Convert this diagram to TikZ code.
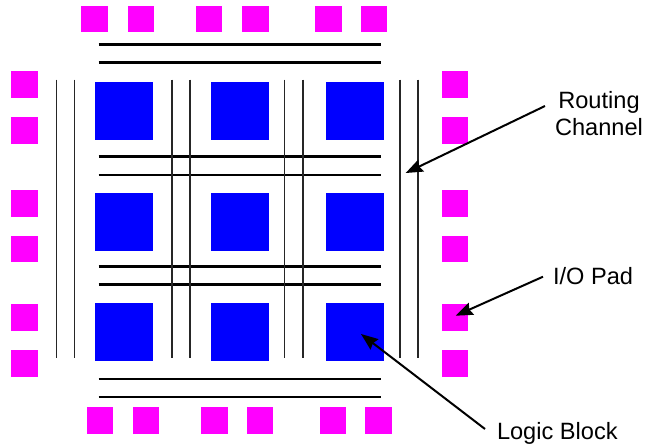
\documentclass[tikz,border=0pt]{standalone}
\usepackage{fontspec}
\setmainfont{Liberation Sans}
\usetikzlibrary{arrows.meta}
\definecolor{padmag}{RGB}{255,0,255}
\definecolor{blockblue}{RGB}{0,0,255}
\tikzset{
  padbox/.style={fill=padmag, draw=none, inner sep=0pt, outer sep=0pt, minimum width=26.3pt, minimum height=26.3pt, anchor=center},
  logicbox/.style={fill=blockblue, draw=none, inner sep=0pt, outer sep=0pt, minimum width=58pt, minimum height=58pt, anchor=center},
  hwire/.style={draw=black, line width=2.6pt},
  vwire/.style={draw=black!85, line width=1.6pt},
  callout/.style={draw=black, line width=2pt, -{Stealth[length=17pt,width=13pt,inset=2pt]}},
  lbl/.style={font=\fontsize{23.6}{27}\selectfont, inner sep=0pt, outer sep=0pt, text=black, align=center}
}
\begin{document}
\begin{tikzpicture}[x=1pt,y=-1pt]
\useasboundingbox (0,0) rectangle (649,445);
% top pads
\foreach \n/\x in {1/94.5,2/140.7,3/209,4/255.5,5/328.5,6/374}
  \node[padbox] (top\n) at (\x,19.3) {};
% bottom pads
\foreach \n/\x in {1/100,2/146.3,3/214.5,4/260.3,5/333.3,6/378.6}
  \node[padbox] (bot\n) at (\x,420.6) {};
% side pads
\foreach \n/\y in {1/84.5,2/130.5,3/203.5,4/249,5/317.5,6/363.5} {
  \node[padbox] (lft\n) at (24.5,\y) {};
  \node[padbox] (rgt\n) at (454.7,\y) {};
}
% logic blocks
\foreach \c/\x in {1/124.2,2/239.5,3/355.2}
  \foreach \r/\y in {1/111.3,2/222.3,3/331.7}
    \node[logicbox] (blk\r\c) at (\x,\y) {};
% routing channel wires
\foreach \n/\y in {1/44.2,2/62.5,3/156.7,4/175,5/266.3,6/284.7,7/379,8/397} {
  \coordinate (hl\n) at (98.5,\y);
  \coordinate (hr\n) at (380.7,\y);
  \draw[hwire] (hl\n) -- (hr\n);
}
\foreach \n/\x in {1/56.5,2/74.6,3/172,4/190.2,5/284.5,6/302.7,7/399.8,8/418} {
  \coordinate (vt\n) at (\x,79.5);
  \coordinate (vb\n) at (\x,357.5);
  \draw[vwire] (vt\n) -- (vb\n);
}
% labels
\node[lbl, anchor=center] (routing) at (599,114) {Routing\\Channel};
\node[lbl, anchor=base west] (iopad) at (553,284) {I/O Pad};
\node[lbl, anchor=base west] (logic) at (497,439) {Logic Block};
% callouts
\coordinate (routingtail) at (545,106);
\coordinate (routinghead) at (405.7,173);
\coordinate (iotail) at (543,276.7);
\coordinate (iohead) at (455.7,315.7);
\coordinate (logictail) at (485,429);
\coordinate (logichead) at (361,334);
\draw[callout] (routingtail) -- (routinghead);
\draw[callout] (iotail) -- (iohead);
\draw[callout] (logictail) -- (logichead);
\end{tikzpicture}
\end{document}
